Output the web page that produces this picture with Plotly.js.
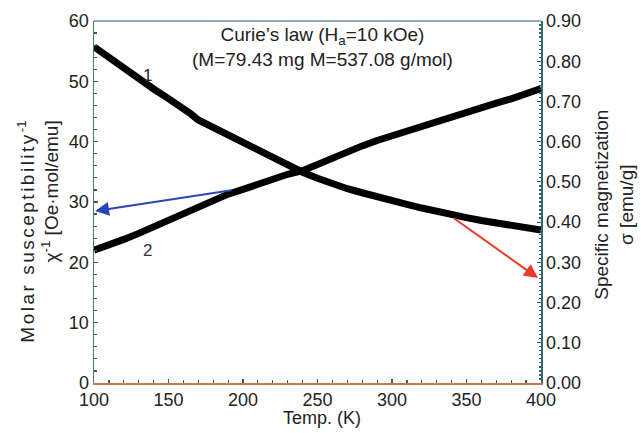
<!DOCTYPE html>
<html>
<head>
<meta charset="utf-8">
<script src="https://cdn.plot.ly/plotly-3.0.1.min.js"></script>
<style>html,body{margin:0;padding:0;background:#fff;}</style>
</head>
<body>
<div id="chart" style="width:641px;height:433px;"></div>
<script>
// Temperature (K)
var temps = [100,110,120,130,140,150,160,165,170,180,190,200,210,220,230,240,250,260,270,280,290,300,310,320,330,340,350,360,370,380,390,400];
// Curve 2: inverse molar susceptibility chi^-1 [Oe·mol/emu] (left axis)
var chiInv = [22.0,22.8,23.8,24.8,25.9,26.9,27.9,28.6,29.3,30.3,31.3,32.1,33.0,33.9,34.6,35.2,36.3,37.4,38.4,39.3,40.2,41.0,41.7,42.5,43.3,44.1,44.8,45.6,46.4,47.1,47.9,48.8];
// Curve 1: specific magnetization sigma [emu/g] (right axis)
var sigma = [0.836,0.809,0.780,0.755,0.731,0.707,0.684,0.669,0.654,0.635,0.615,0.597,0.578,0.560,0.542,0.524,0.509,0.495,0.483,0.473,0.462,0.453,0.444,0.435,0.426,0.419,0.411,0.404,0.398,0.392,0.386,0.380];

var FONT = '"Liberation Sans", Arial, Helvetica, sans-serif';

var traces = [
  {x: temps, y: sigma, yaxis: 'y2', type: 'scatter', mode: 'lines',
   line: {color: '#000000', width: 7}, hoverinfo: 'skip', showlegend: false},
  {x: temps, y: chiInv, yaxis: 'y', type: 'scatter', mode: 'lines',
   line: {color: '#000000', width: 7}, hoverinfo: 'skip', showlegend: false}
];

var layout = {
  width: 641, height: 433,
  margin: {l: 94, r: 100, t: 21, b: 50, pad: 0},
  paper_bgcolor: '#ffffff', plot_bgcolor: '#ffffff',
  font: {family: FONT, size: 18, color: '#222222'},
  showlegend: false,
  xaxis: {
    range: [100, 400], dtick: 50, tick0: 100,
    ticks: 'inside', ticklen: 4, tickwidth: 1.2, tickcolor: '#2f5f5f',
    minor: {dtick: 10, ticks: 'inside', ticklen: 3, tickcolor: '#2f5f5f'},
    showline: true, linecolor: '#c87846', linewidth: 1.5, mirror: false,
    showgrid: false, zeroline: false,
    tickfont: {family: FONT, size: 18, color: '#222222'}
  },
  yaxis: {
    range: [0, 60], dtick: 10, tick0: 0,
    ticks: 'inside', ticklen: 4, tickwidth: 1.2, tickcolor: '#2f5f5f',
    minor: {dtick: 2, ticks: 'inside', ticklen: 3, tickcolor: '#2f5f5f'},
    showline: true, linecolor: '#4a7a5a', linewidth: 1.5,
    showgrid: false, zeroline: false,
    tickfont: {family: FONT, size: 18, color: '#222222'}
  },
  yaxis2: {
    range: [0, 0.9], dtick: 0.1, tick0: 0, tickformat: '.2f',
    overlaying: 'y', side: 'right',
    ticks: 'inside', ticklen: 4, tickwidth: 1.2, tickcolor: '#2f5f5f',
    minor: {dtick: 0.01, ticks: 'inside', ticklen: 2.5, tickcolor: '#2f5f5f'},
    showline: true, linecolor: '#2f6a6a', linewidth: 1.5,
    showgrid: false, zeroline: false,
    tickfont: {family: FONT, size: 18, color: '#222222'}
  },
  shapes: [
    {type: 'line', xref: 'paper', yref: 'paper', x0: 0, x1: 1, y0: 1, y1: 1,
     line: {color: '#6a8fb0', width: 1.5}}
  ],
  annotations: [
    {xref: 'paper', yref: 'paper', x: 0.512, y: 0.928, xanchor: 'center', yanchor: 'middle',
     text: 'Curie\u2019s law (H<sub>a</sub>=10 kOe)<br>(M=79.43 mg M=537.08 g/mol)',
     showarrow: false, align: 'center', font: {family: FONT, size: 19, color: '#222222'}},
    {xref: 'paper', yref: 'paper', x: 0.51, y: -0.097, xanchor: 'center', yanchor: 'middle',
     text: 'Temp. (K)', showarrow: false, font: {family: FONT, size: 18, color: '#222222'}},
    {xref: 'paper', yref: 'paper', x: -0.125, y: 0.4185, xanchor: 'center', yanchor: 'middle',
     textangle: -90, align: 'right', showarrow: false,
     text: '<span style="letter-spacing:2.5px">Molar susceptibility</span><sup>-1</sup><br>\u03c7<sup>-1</sup> [Oe\u00b7mol/emu]',
     font: {family: FONT, size: 19, color: '#222222'}},
    {xref: 'paper', yref: 'paper', x: 1.163, y: 0.492, xanchor: 'center', yanchor: 'middle',
     textangle: -90, align: 'center', showarrow: false,
     text: 'Specific magnetization<br>\u03c3 [emu/g]',
     font: {family: FONT, size: 19, color: '#222222'}},
    {xref: 'x', yref: 'y', x: 135.6, y: 50.9, text: '1', showarrow: false,
     font: {family: FONT, size: 17, color: '#222222'}},
    {xref: 'x', yref: 'y', x: 135.6, y: 21.9, text: '2', showarrow: false,
     font: {family: FONT, size: 17, color: '#333333'}},
    {xref: 'x', yref: 'y', axref: 'x', ayref: 'y', x: 100.7, y: 28.5, ax: 193.3, ay: 32.0,
     text: '', showarrow: true, arrowhead: 2, arrowsize: 1.4, arrowwidth: 2, arrowcolor: '#2a45b8',
     standoff: 0, startstandoff: 0},
    {xref: 'x', yref: 'y2', axref: 'x', ayref: 'y2', x: 398, y: 0.261, ax: 340.3, ay: 0.413,
     text: '', showarrow: true, arrowhead: 2, arrowsize: 1.4, arrowwidth: 2, arrowcolor: '#ee3a2a',
     standoff: 0, startstandoff: 0}
  ]
};

Plotly.newPlot('chart', traces, layout, {staticPlot: true, displayModeBar: false});
</script>
</body>
</html>
